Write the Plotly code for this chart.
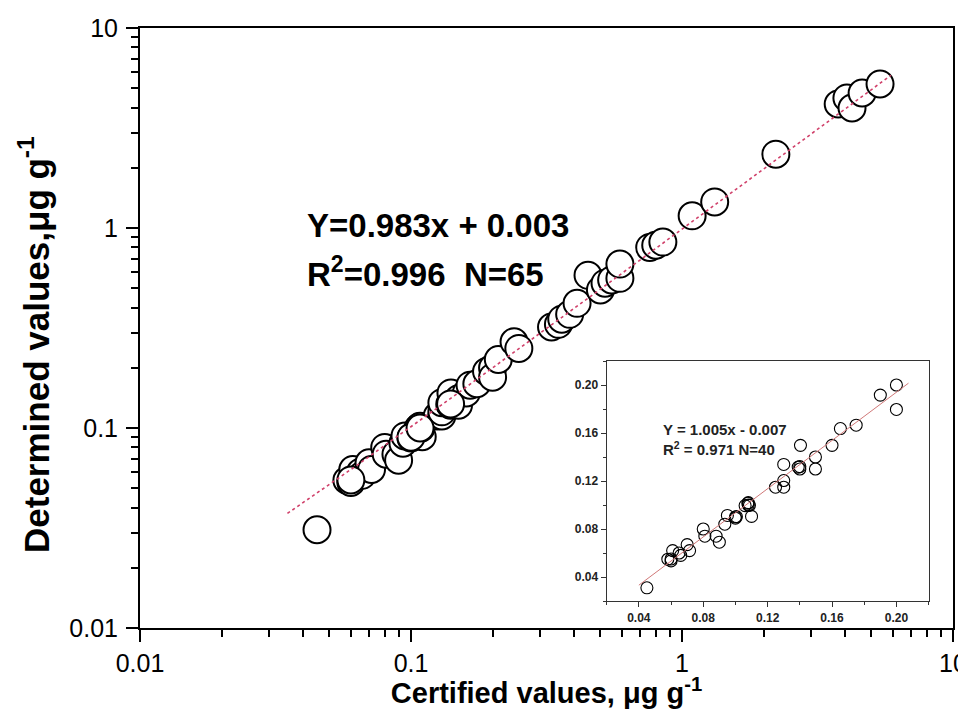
import plotly.graph_objects as go
import numpy as np

# Inset data (certified <= 0.2), also plotted in the main panel
small_x = [0.045, 0.058, 0.060, 0.061, 0.065, 0.066, 0.070, 0.0715, 0.080, 0.081,
           0.088, 0.090, 0.0934, 0.095, 0.100, 0.1006, 0.106, 0.1077, 0.108, 0.110,
           0.1087, 0.1249, 0.130, 0.130, 0.130, 0.139, 0.140, 0.1404, 0.1497, 0.1497,
           0.160, 0.1652, 0.175, 0.190, 0.200, 0.200, 0.060, 0.100, 0.108, 0.140]
small_y = [0.031, 0.0548, 0.0534, 0.062, 0.060, 0.058, 0.067, 0.062, 0.080, 0.074,
           0.074, 0.069, 0.084, 0.0913, 0.089, 0.0903, 0.0995, 0.1014, 0.102, 0.0905,
           0.0997, 0.1148, 0.1148, 0.1204, 0.1338, 0.1316, 0.130, 0.1497, 0.140, 0.130,
           0.1497, 0.1637, 0.1665, 0.1916, 0.200, 0.1796, 0.055, 0.090, 0.100, 0.132]

# Additional main-panel data (certified > 0.2)
large_x = [0.21, 0.24, 0.25, 0.33, 0.35, 0.36, 0.385, 0.41, 0.45, 0.50, 0.52, 0.55,
           0.59, 0.59, 0.76, 0.80, 0.85, 1.09, 1.32, 2.22, 3.77, 4.06, 4.24, 4.62, 5.38]
large_y = [0.22, 0.27, 0.25, 0.32, 0.33, 0.35, 0.37, 0.42, 0.58, 0.49, 0.53, 0.55,
           0.56, 0.66, 0.80, 0.82, 0.85, 1.15, 1.35, 2.34, 4.17, 4.47, 3.98, 4.73, 5.25]

# Regression parameters
main_slope, main_intercept = 0.983, 0.003
main_fit_range = [0.035, 5.9]
inset_slope, inset_intercept = 1.005, -0.007
inset_fit_range = [0.04, 0.2075]

main_ticks = [0.01, 0.1, 1, 10]
main_ticklabels = ["0.01", "0.1", "1", "10"]
inset_ticks = [0.04, 0.08, 0.12, 0.16, 0.20]

FONT = "Arial, Liberation Sans, sans-serif"

all_x = small_x + large_x
all_y = small_y + large_y

# minor tick positions 2..9 within each decade of the log axes
minor_vals = [m * d for d in main_ticks[:-1] for m in range(2, 10)]

fig = go.Figure()

fig.add_trace(go.Scatter(
    x=all_x, y=all_y, mode="markers",
    marker=dict(symbol="circle", size=27, color="white",
                line=dict(color="black", width=2)),
    xaxis="x", yaxis="y", showlegend=False))

fx = np.logspace(np.log10(main_fit_range[0]), np.log10(main_fit_range[1]), 200)
fig.add_trace(go.Scatter(
    x=fx, y=main_slope * fx + main_intercept, mode="lines",
    line=dict(color="#d0406a", width=1.6, dash="dot"),
    xaxis="x", yaxis="y", showlegend=False))

fig.add_trace(go.Scatter(
    x=small_x, y=small_y, mode="markers",
    marker=dict(symbol="circle-open", size=12, color="black",
                line=dict(color="black", width=1.1)),
    xaxis="x2", yaxis="y2", showlegend=False))

ix = np.array(inset_fit_range)
fig.add_trace(go.Scatter(
    x=ix, y=inset_slope * ix + inset_intercept, mode="lines",
    line=dict(color="#d07878", width=1),
    xaxis="x2", yaxis="y2", showlegend=False))

main_axis = dict(type="log", showgrid=False, zeroline=False, automargin=False,
                 showline=True, linecolor="black", linewidth=2, mirror=True,
                 ticks="outside", ticklen=12, tickwidth=2, tickcolor="black",
                 tickvals=main_ticks, ticktext=main_ticklabels,
                 ticklabeloverflow="allow",
                 tickfont=dict(family=FONT, size=25, color="black"),
                 minor=dict(ticks="outside", ticklen=7, tickwidth=1.5,
                            tickcolor="black", showgrid=False, tickvals=minor_vals))

inset_axis = dict(showgrid=False, zeroline=False, showline=True, linecolor="#333",
                  linewidth=1.2, mirror=True, ticks="outside", ticklen=5, tickwidth=1,
                  tickcolor="#333", range=[0.02, 0.22],
                  tickvals=inset_ticks, tickformat=".2f",
                  tickfont=dict(family=FONT, size=12, color="#222", weight="bold"),
                  minor=dict(ticks="outside", ticklen=3, dtick=0.02, tick0=0.02,
                             tickcolor="#333"))

# page body has an 8px margin, so the figure is offset by 8px inside the window
fig.update_layout(
    width=958, height=701,
    margin=dict(l=132, r=13, t=20, b=81),
    paper_bgcolor="white", plot_bgcolor="white",
    xaxis=dict(main_axis, range=[-2, 1],
               title=dict(text="<b>Certified values, μg g<sup>-1</sup></b>",
                          font=dict(family=FONT, size=29, color="black"), standoff=2)),
    yaxis=dict(main_axis, range=[-2, 1], ticklabelstandoff=3),
    xaxis2=dict(inset_axis, domain=[0.574, 0.97], anchor="y2"),
    yaxis2=dict(inset_axis, domain=[0.045, 0.445], anchor="x2"),
    annotations=[
        dict(text="<b>Determined values,μg g<sup>-1</sup></b>", textangle=-90,
             xref="paper", yref="paper",
             x=(34 - 140) / 813, y=(628 - 345) / 600, xanchor="center", yanchor="middle",
             showarrow=False, font=dict(family=FONT, size=35, color="black")),
        dict(text="<b>Y=0.983x + 0.003</b>", xref="paper", yref="paper",
             x=(305 - 140) / 813, y=(628 - 225) / 600, xanchor="left", yanchor="middle",
             showarrow=False, font=dict(family=FONT, size=33, color="black")),
        dict(text="<b>R<sup>2</sup>=0.996  N=65</b>", xref="paper", yref="paper",
             x=(305 - 140) / 813, y=(628 - 272) / 600, xanchor="left", yanchor="middle",
             showarrow=False, font=dict(family=FONT, size=33, color="black")),
        dict(text="<b>Y = 1.005x - 0.007</b>", xref="paper", yref="paper",
             x=(661 - 140) / 813, y=(628 - 430) / 600, xanchor="left", yanchor="middle",
             showarrow=False, font=dict(family=FONT, size=15, color="#222")),
        dict(text="<b>R<sup>2</sup> = 0.971 N=40</b>", xref="paper", yref="paper",
             x=(661 - 140) / 813, y=(628 - 448) / 600, xanchor="left", yanchor="middle",
             showarrow=False, font=dict(family=FONT, size=15, color="#222")),
    ],
)

fig.write_html("out.html")
